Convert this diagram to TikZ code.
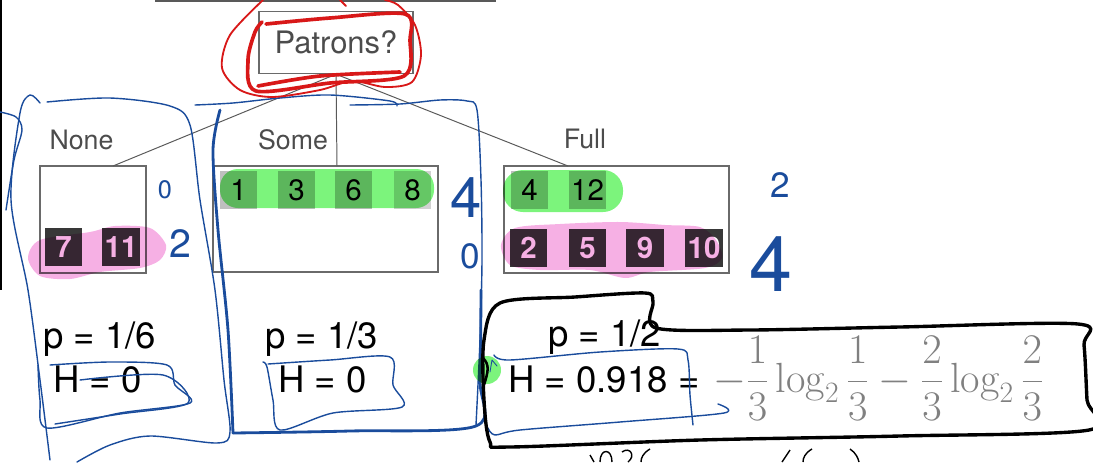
\RequirePackage{fix-cm}
\documentclass[tikz,border=0pt]{standalone}
\usepackage{fontspec}
\usepackage{amsmath}
\newfontfamily\heros{TeX Gyre Heros}
\definecolor{inkblue}{HTML}{1A4C9C}
\definecolor{inkred}{HTML}{D81818}
\definecolor{hlgreen}{HTML}{7CF47C}
\definecolor{hlpink}{HTML}{F6B0E4}
\definecolor{boxgray}{HTML}{6A6A6A}

\begin{document}
\begin{tikzpicture}[x=0.025cm,y=-0.025cm,
  treebox/.style={draw=boxgray,line width=1pt,inner sep=0pt},
  branch/.style={draw=black!65,line width=0.7pt},
  branchtext/.style={text=black!70,font=\heros\fontsize{19}{22}\selectfont},
  posex/.style={minimum size=0.93cm,inner sep=0pt,fill=black!25,text=black,font=\heros\fontsize{21}{24}\selectfont},
  negex/.style={minimum size=0.93cm,inner sep=0pt,fill=black!78,text=white,font=\heros\bfseries\fontsize{21}{24}\selectfont},
  stat/.style={anchor=base west,inner sep=0pt,font=\heros\fontsize{26}{30}\selectfont},
  ink/.style={text=inkblue,inner sep=0pt},
  pen/.style={draw=inkblue,line width=1pt,line cap=round,line join=round},
  thickpen/.style={pen,line width=2pt},
  blackpen/.style={draw=black,line width=2.4pt,line cap=round,line join=round},
  redpen/.style={draw=inkred,line cap=round,line join=round},
  greenmark/.style={fill=hlgreen,blend mode=multiply},
  pinkmark/.style={fill=hlpink,blend mode=multiply}]
\useasboundingbox (0,0) rectangle (1093,462);

\draw[line width=2pt] (0.5,0) -- (0.5,290);
\draw[branch,line width=1pt] (155,1) -- (496,1);

\node[treebox,minimum width=3.85cm,minimum height=1.55cm,text=black!70,font=\heros\fontsize{22}{26}\selectfont] (patrons) at (336,42.5) {Patrons?};
\node[treebox,minimum width=2.65cm,minimum height=2.675cm] (nonebox) at (93,219.5) {};
\node[treebox,minimum width=5.625cm,minimum height=2.65cm] (somebox) at (325.5,219) {};
\node[treebox,minimum width=5.625cm,minimum height=2.675cm] (fullbox) at (616.5,219.5) {};

\coordinate (noneend) at (113,166);
\coordinate (someend) at (337,166);
\coordinate (fullend) at (568,166);
\draw[branch] (patrons.south) -- (noneend);
\draw[branch] (patrons.south) -- (someend);
\draw[branch] (patrons.south) -- (fullend);

\node[branchtext] (none) at (81.5,140) {None};
\node[branchtext] (some) at (293,140) {Some};
\node[branchtext] (full) at (585,139) {Full};

\node[negex] (x7) at (63.5,247) {7};
\node[negex] (x11) at (121,247) {11};
\node[posex] (x1) at (238.5,190) {1};
\node[posex] (x3) at (296.5,190) {3};
\node[posex] (x6) at (353.5,190) {6};
\node[posex,fill=black!18] (x8) at (412.5,190) {8};
\node[posex] (x4) at (529.5,190) {4};
\node[posex] (x12) at (587.5,190) {12};
\node[negex] (x2) at (528.5,248) {2};
\node[negex] (x5) at (587.5,248) {5};
\node[negex] (x9) at (645,248) {9};
\node[negex] (x10) at (704,248) {10};

\fill[greenmark,rounded corners=0.45cm] (220,169) rectangle (434,208);
\fill[greenmark,rounded corners=0.5cm] (503,170) rectangle (623,212);
\fill[pinkmark] plot[smooth cycle] coordinates {(28,258) (40,240) (90,232) (115,226) (150,228) (166,245) (160,260) (140,268) (100,272) (70,279) (40,276)};
\fill[pinkmark] plot[smooth cycle] coordinates {(501,245) (515,228) (560,224) (620,222) (665,225) (700,227) (716,240) (722,258) (705,268) (650,272) (625,278) (590,270) (540,270) (510,265)};

\node[stat] (pnone) at (43,348) {p = 1/6};
\node[stat] (hnone) at (53,392) {H = 0};
\node[stat] (psome) at (265,348) {p = 1/3};
\node[stat] (hsome) at (278,392) {H = 0};
\node[stat] (pfull) at (548,346) {p = 1/2};
\node[stat] (hfull) at (508,392) {H = 0.918 =};
\node[anchor=base west,inner sep=0pt,text=black!50,font=\fontsize{30}{34}\selectfont] (entropy) at (713,392)
  {$\displaystyle -\frac{1}{3}\log_2\frac{1}{3}-\frac{2}{3}\log_2\frac{2}{3}$};

\node[ink,font=\heros\fontsize{18}{20}\selectfont] (cnt0a) at (165,190) {0};
\node[ink,font=\heros\fontsize{28}{30}\selectfont] (cnt2a) at (180,244) {2};
\node[ink,font=\heros\fontsize{40}{44}\selectfont] (cnt4a) at (466,198) {4};
\node[ink,font=\heros\fontsize{25}{28}\selectfont] (cnt0b) at (470,256) {0};
\node[ink,font=\heros\fontsize{25}{28}\selectfont] (cnt2b) at (780,185) {2};
\node[ink,font=\heros\fontsize{55}{60}\selectfont] (cnt4b) at (771,264) {4};

\draw[pen] plot[smooth] coordinates {(0,112) (16,117) (22,130) (14,160) (6,210)};
\draw[pen] plot[smooth] coordinates {(40,103) (30,95) (20,113) (11,200) (28,290) (40,380) (50,460)};
\draw[pen] plot[smooth] coordinates {(47,102) (110,98) (170,106) (190,125) (200,200) (215,290) (224,380) (230,432) (217,443) (150,436) (110,445) (77,462)};
\draw[pen] plot[smooth] coordinates {(195,105) (233,103) (280,98) (330,95) (390,101) (397,106)};
\draw[pen] plot[smooth] coordinates {(350,105) (400,104) (440,100) (467,101) (477,110) (481,180) (482,260) (480,340) (476,425)};
\draw[thickpen] plot[smooth] coordinates {(220,110) (213,150) (218,230) (228,330) (233,433)};
\draw[thickpen] plot[smooth] coordinates {(233,433) (350,431) (476,426) (480,380) (481,290)};
\draw[pen] plot[smooth] coordinates {(38,365) (40,400) (47,428) (120,413) (190,403) (175,385) (167,365) (110,362) (50,365)};
\draw[pen] plot[smooth] coordinates {(80,380) (163,375) (188,403) (120,414) (55,424)};
\draw[pen] plot[smooth] coordinates {(263,362) (267,367) (273,400) (280,430) (333,413) (402,407) (393,385) (390,357) (330,360) (268,364)};
\draw[pen] plot[smooth] coordinates {(494,355) (510,360) (600,352) (678,349) (688,360) (690,395) (693,425)};
\draw[pen] plot[smooth] coordinates {(488,428) (495,435) (520,430) (620,422) (724,413) (718,404)};

\fill[greenmark] (487,370) circle (0.35cm);
\draw[blackpen] plot[smooth cycle] coordinates {(500,303) (575,297) (645,293) (653,302) (656,328) (750,330) (900,327) (1078,324) (1084,345) (1087,400) (1089,430) (900,436) (700,440) (510,447) (490,442) (484,400) (484,340)};
\draw[blackpen,line width=1.8pt] (483,358) .. controls (490,365) and (488,372) .. (484,385);
\draw[pen,line width=0.6pt] (490,372) -- (492,360) -- (497,366);

\draw[line width=1pt] (590,455) -- (594,462);
\draw[line width=1pt] (612,462) .. controls (612,448) and (600,448) .. (600,462);
\draw[line width=1pt] (622,452) .. controls (630,446) and (636,456) .. (628,462);
\draw[line width=1pt] (650,449) .. controls (643,453) and (641,458) .. (641,462);
\draw[line width=1pt] (790,450) -- (782,462);
\draw[line width=1pt] (812,449) .. controls (805,453) and (803,458) .. (803,462);
\draw[line width=1pt] (850,449) .. controls (856,453) and (858,458) .. (859,462);

\draw[redpen,line width=2.6pt] plot[smooth] coordinates {(266,24) (330,18) (405,14) (410,40) (404,76) (330,83) (256,91) (248,60) (255,32) (262,22)};
\draw[redpen,line width=2.6pt] plot[smooth] coordinates {(258,86) (320,76) (400,72)};
\draw[redpen,line width=1.3pt] plot[smooth] coordinates {(263,0) (230,35) (222,68) (240,90) (272,97) (320,90) (352,81) (385,87) (412,82) (421,55) (415,25) (398,5) (385,0)};
\draw[redpen,line width=1.3pt] (340,0) -- (346,6);
\end{tikzpicture}
\end{document}
